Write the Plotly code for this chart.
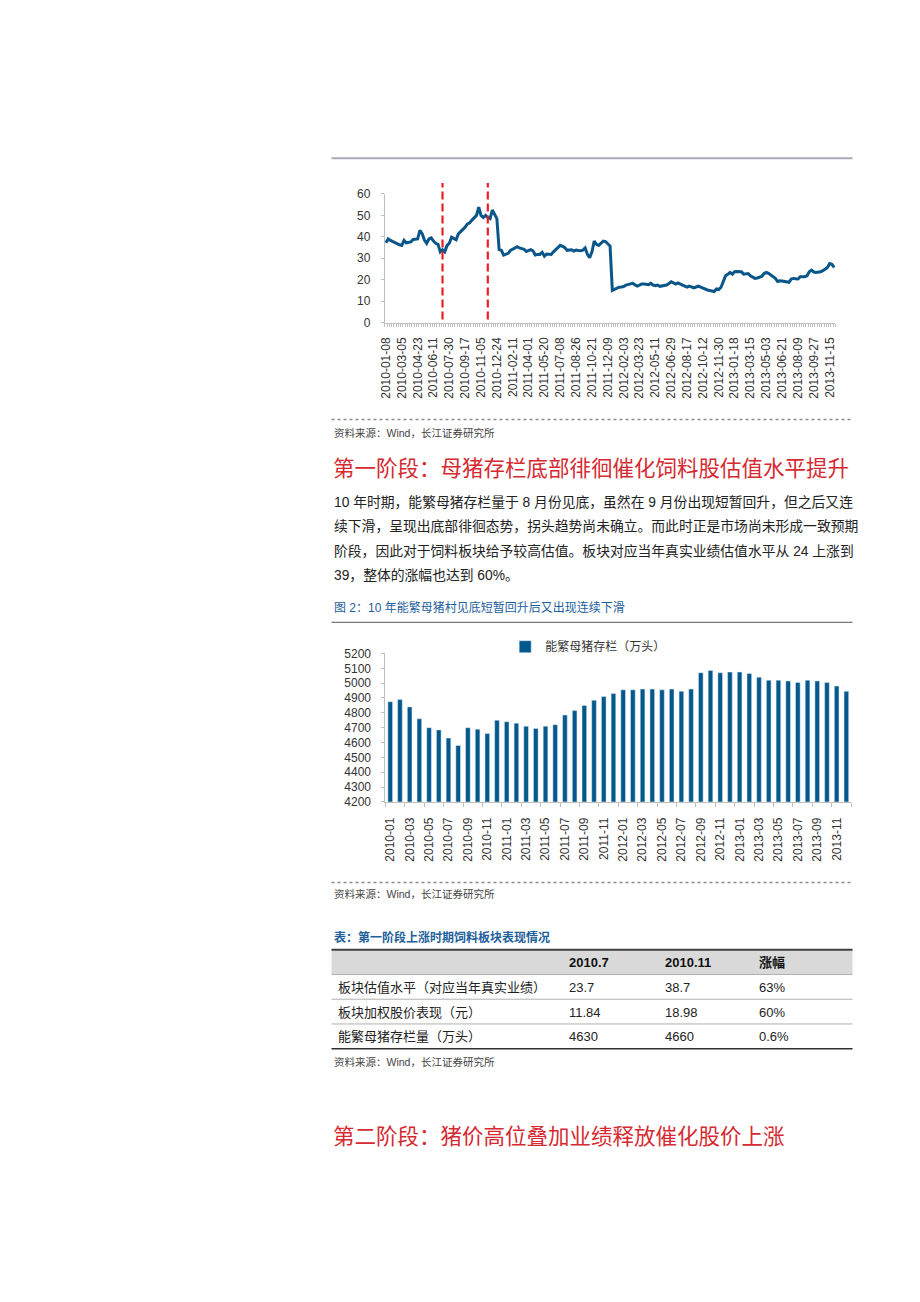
import plotly.graph_objects as go

# ---------------- data ----------------
# Chart 1: weekly valuation series (index positions = trading weeks)
valuation = [
    37.2, 39.0, 38.3, 37.8, 37.0, 36.5, 36.3, 36.0, 38.3, 37.2,
    37.5, 37.6, 38.8, 39.0, 39.0, 43.0, 41.5, 38.5, 37.0, 39.0,
    39.5, 38.0, 37.0, 36.5, 33.0, 34.0, 33.0, 36.0, 37.0, 39.8,
    39.0, 38.6, 41.4, 42.3, 43.2, 44.5, 46.0, 46.5, 47.8, 49.0,
    50.0, 53.8, 50.0, 49.0, 50.0, 49.0, 48.5, 52.5, 50.5, 48.5,
    34.0, 33.7, 31.5, 32.0, 32.3, 33.7, 34.2, 34.6, 35.4, 34.8,
    34.6, 34.2, 33.2, 33.6, 34.0, 33.4, 31.5, 31.8, 31.8, 32.8,
    31.0, 32.0, 31.8, 31.8, 33.0, 34.0, 34.6, 36.0, 35.5, 35.0,
    33.7, 34.0, 34.0, 33.4, 33.8, 33.6, 33.5, 33.8, 34.8, 31.8,
    30.3, 33.0, 38.0, 36.5, 36.0, 37.0, 38.0, 37.8, 36.8, 35.7,
    15.0, 15.5, 16.0, 16.5, 16.6, 16.8, 17.5, 17.8, 18.3, 18.3,
    17.6, 17.0, 17.5, 18.0, 18.0, 17.8, 17.7, 18.3, 17.5, 17.2,
    17.5, 16.9, 17.2, 17.5, 17.5, 18.2, 19.0, 18.5, 18.0, 18.5,
    17.8, 17.5, 17.0, 16.5, 17.0, 16.6, 16.2, 16.6, 17.0, 16.5,
    16.0, 15.7, 15.2, 15.0, 14.8, 14.5, 15.7, 15.4, 16.5, 19.5,
    21.8, 22.5, 23.4, 22.6, 23.7, 23.8, 23.7, 23.7, 22.6, 22.8,
    22.9, 21.8, 21.0, 20.6, 20.8, 21.0, 21.5, 22.9, 23.4, 23.0,
    22.3, 21.2, 20.6, 19.2, 19.5, 19.4, 19.2, 19.0, 18.8, 20.3,
    20.6, 20.4, 20.3, 21.4, 21.4, 21.4, 21.8, 23.7, 24.5, 23.6,
    23.4, 23.5, 23.7, 24.2, 25.0, 25.7, 27.5, 27.2, 25.7,
]
week_labels = [
    "2010-01-08", "2010-03-05", "2010-04-23", "2010-06-11", "2010-07-30",
    "2010-09-17", "2010-11-05", "2010-12-24", "2011-02-11", "2011-04-01",
    "2011-05-20", "2011-07-08", "2011-08-26", "2011-10-21", "2011-12-09",
    "2012-02-03", "2012-03-23", "2012-05-11", "2012-06-29", "2012-08-17",
    "2012-10-12", "2012-11-30", "2013-01-18", "2013-03-15", "2013-05-03",
    "2013-06-21", "2013-08-09", "2013-09-27", "2013-11-15",
]
label_step = 7
marker_weeks = [25, 45]  # red dashed markers (2010-07, 2010-11)

# Chart 2: monthly breeding sow inventory
months = [f"{y}-{m:02d}" for y in range(2010, 2014) for m in range(1, 13)]
sows = [
    4875, 4890, 4840, 4760, 4700, 4685, 4630, 4580, 4700, 4690, 4660, 4750,
    4740, 4730, 4710, 4695, 4710, 4720, 4785, 4815, 4850, 4885, 4910, 4930,
    4955, 4955, 4960, 4960, 4955, 4960, 4945, 4960, 5070, 5085, 5070, 5075,
    5075, 5065, 5040, 5020, 5020, 5015, 5005, 5020, 5015, 5005, 4980, 4945,
]
sow_name = "能繁母猪存栏（万头）"

# Table
table_header = ["", "2010.7", "2010.11", "涨幅"]
row_names = ["板块估值水平（对应当年真实业绩）", "板块加权股价表现（元）", "能繁母猪存栏量（万头）"]
col_2010_7 = ["23.7", "11.84", "4630"]
col_2010_11 = ["38.7", "18.98", "4660"]
col_change = ["63%", "60%", "0.6%"]

heading1 = "第一阶段：母猪存栏底部徘徊催化饲料股估值水平提升"
heading2 = "第二阶段：猪价高位叠加业绩释放催化股价上涨"
para_lines = [
    "10 年时期，能繁母猪存栏量于 8 月份见底，虽然在 9 月份出现短暂回升，但之后又连",
    "续下滑，呈现出底部徘徊态势，拐头趋势尚未确立。而此时正是市场尚未形成一致预期",
    "阶段，因此对于饲料板块给予较高估值。板块对应当年真实业绩估值水平从 24 上涨到",
    "39，整体的涨幅也达到 60%。",
]
fig2_title = "图 2：10 年能繁母猪村见底短暂回升后又出现连续下滑"
table_title = "表：第一阶段上涨时期饲料板块表现情况"
source_text = "资料来源：Wind，长江证券研究所"

# ---------------- layout helpers ----------------
W, H = 920, 1302
def fx(p): return p / W
def fy(p): return 1 - p / H

FONT = "Liberation Sans, Arial, Noto Sans CJK SC, sans-serif"
TXT = "#333333"
BLUE = "#0a5688"
RED_H = "#d62a32"
TITLE_BLUE = "#1d5e9b"

fig = go.Figure()

fig.add_trace(go.Scatter(
    x=list(range(len(valuation))), y=valuation, mode="lines",
    line=dict(color=BLUE, width=3), showlegend=False, xaxis="x", yaxis="y",
    hoverinfo="skip",
))
fig.add_trace(go.Bar(
    x=list(range(len(sows))), y=sows, name=sow_name, marker_color="#03588c",
    width=0.48, xaxis="x2", yaxis="y2", showlegend=True,
))

axis_gray = "#bfbfbf"
fig.update_layout(
    width=W, height=H, margin=dict(l=0, r=0, t=0, b=0),
    paper_bgcolor="white", plot_bgcolor="white",
    font=dict(family=FONT, color=TXT, size=12),
    xaxis=dict(
        domain=[fx(381.7), fx(835.7)], range=[-0.5, len(valuation) - 0.5],
        tickmode="array", tickvals=[i * label_step for i in range(len(week_labels))],
        ticktext=week_labels, tickangle=-90, ticks="", showgrid=False, zeroline=False,
        showline=True, linecolor=axis_gray, linewidth=1, ticklabelstandoff=9,
        tickfont=dict(size=12, color=TXT),
        minor=dict(tickmode="linear", tick0=-0.5, dtick=1, ticks="outside", ticklen=3,
                   tickcolor=axis_gray, showgrid=False),
        anchor="y", fixedrange=True,
    ),
    yaxis=dict(
        domain=[fy(319), fy(189)], range=[0, 60], dtick=10, tick0=0,
        showgrid=False, zeroline=False, showline=True, linecolor=axis_gray,
        ticks="outside", ticklen=3, tickcolor=axis_gray, ticklabelstandoff=8,
        tickfont=dict(size=12, color=TXT), anchor="x", fixedrange=True,
    ),
    xaxis2=dict(
        domain=[fx(382.3), fx(851.7)], range=[-0.5, len(sows) - 0.5],
        tickmode="array", tickvals=list(range(0, len(sows), 2)),
        ticktext=months[0::2], tickangle=-90, ticks="", showgrid=False, zeroline=False,
        showline=True, linecolor=axis_gray, linewidth=1, ticklabelstandoff=10,
        tickfont=dict(size=12, color=TXT),
        minor=dict(tickmode="linear", tick0=-0.5, dtick=2, ticks="outside", ticklen=4,
                   tickcolor=axis_gray, showgrid=False),
        anchor="y2", fixedrange=True,
    ),
    yaxis2=dict(
        domain=[fy(803.5), fy(653.5)], range=[4200, 5200], dtick=100, tick0=4200,
        showgrid=False, zeroline=False, showline=True, linecolor=axis_gray,
        ticks="outside", ticklen=3, tickcolor=axis_gray, ticklabelstandoff=8,
        tickfont=dict(size=12, color=TXT), anchor="x2", fixedrange=True,
    ),
    legend=dict(
        x=fx(503), y=fy(632), xanchor="left", yanchor="top", orientation="h",
        font=dict(size=12, color=TXT), bgcolor="rgba(0,0,0,0)", itemwidth=30,
    ),
    bargap=0.52,
    showlegend=True,
)

shapes = []
def hline(y, x0=328, x1=853, color="#999", width=1, dash="solid"):
    shapes.append(dict(type="line", xref="paper", yref="paper",
                       x0=fx(x0), x1=fx(x1), y0=fy(y), y1=fy(y),
                       line=dict(color=color, width=width, dash=dash)))

hline(153, color="#a8a8ba", width=2)
hline(417, color="#8c8c8c", width=1.5, dash="dot")
hline(622, color="#555555", width=1)
hline(885, color="#8c8c8c", width=1.5, dash="dot")

shapes.append(dict(type="rect", xref="paper", yref="paper", x0=fx(328), x1=fx(853),
                   y0=fy(978), y1=fy(953), fillcolor="#d9d9d9", line=dict(width=0), layer="below"))
hline(953, color="#404040", width=2)
hline(978, color="#b0b0b0", width=1)
hline(1003, color="#b0b0b0", width=1)
hline(1028, color="#b0b0b0", width=1)
hline(1053, color="#303030", width=1.5)

for wk in marker_weeks:
    shapes.append(dict(type="line", xref="x", yref="paper", x0=wk, x1=wk,
                       y0=fy(316), y1=fy(178),
                       line=dict(color="#ee1c25", width=2.2, dash="8px,4px")))

fig.update_layout(shapes=shapes)

ann = []
def text(x, y, s, size=12, color=TXT, anchor="left", bold=False):
    ann.append(dict(xref="paper", yref="paper", x=fx(x), y=fy(y), text=(f"<b>{s}</b>" if bold else s),
                    showarrow=False, xanchor=anchor, yanchor="middle",
                    font=dict(size=size, color=color, family=FONT)))

text(328, 431, source_text, size=10.5, color="#444")
text(327, 467, heading1, size=21.5, color=RED_H)
for i, line in enumerate(para_lines):
    text(328, 500 + 25 * i, line, size=13.8, color="#222")
text(328, 607, fig2_title, size=12, color=TITLE_BLUE)
text(328, 897, source_text, size=10.5, color="#444")
text(328, 941, table_title, size=12, color=TITLE_BLUE, bold=True)

col_x = [333, 565, 662, 757]
for j, h in enumerate(table_header):
    if h:
        text(col_x[j], 966, h, size=13, color="#111", bold=True)
for i in range(len(row_names)):
    yy = 991 + 25 * i
    text(col_x[0], yy, row_names[i], size=13, color="#222")
    text(col_x[1], yy, col_2010_7[i], size=13, color="#222")
    text(col_x[2], yy, col_2010_11[i], size=13, color="#222")
    text(col_x[3], yy, col_change[i], size=13, color="#222")
text(328, 1066, source_text, size=10.5, color="#444")
text(327, 1142, heading2, size=21.5, color=RED_H)

fig.update_layout(annotations=ann)
fig.write_html("out.html", config={"displayModeBar": False},
               post_script="document.body.style.margin='0';")
